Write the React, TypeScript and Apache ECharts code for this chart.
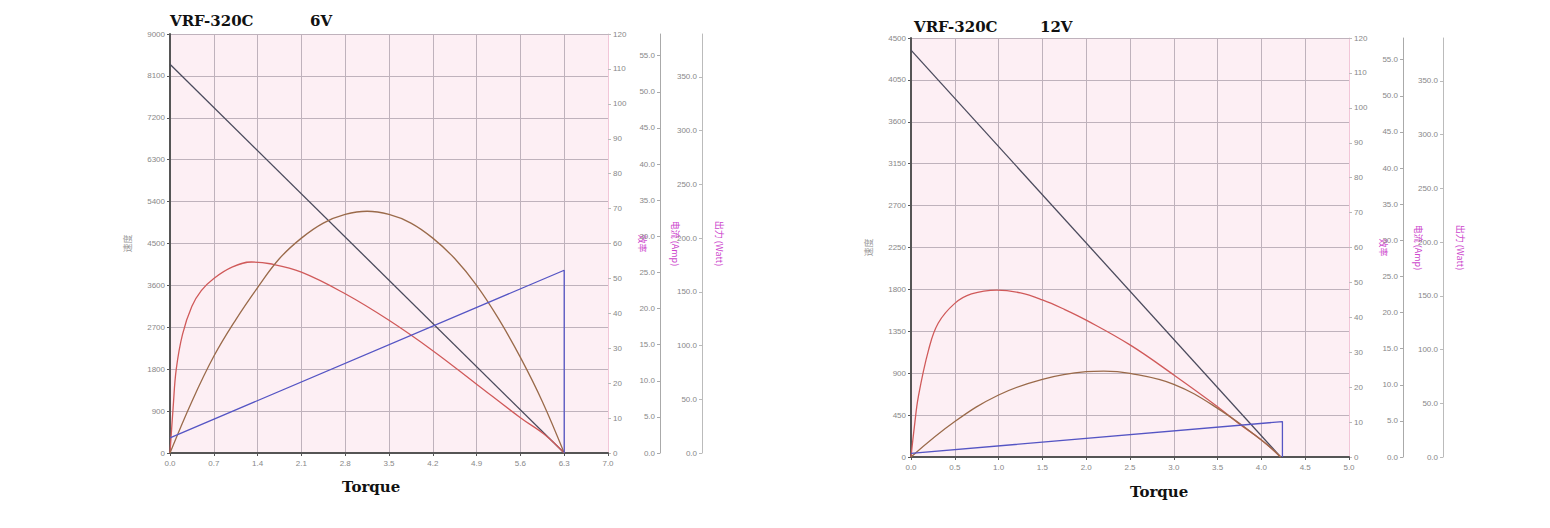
import { useEffect, useRef } from "react";
import * as echarts from "echarts";

// 6V chart: [torque, value]
const speed6V = [[0, 8350], [6.3, 0]];
const eff6V = [
  [0, 0], [0.05, 13], [0.1, 24], [0.2, 34], [0.35, 42], [0.5, 46.5], [0.7, 50],
  [1.0, 53.3], [1.3, 54.7], [1.6, 54.2], [2.1, 51.8], [2.8, 45.6], [3.5, 38],
  [4.2, 29.3], [4.9, 19.7], [5.6, 10.1], [6.0, 5.1], [6.3, 0],
];
const power6V = [
  [0, 0], [0.35, 48], [0.7, 90], [1.05, 124], [1.4, 154], [1.75, 181], [2.1, 200],
  [2.45, 214], [2.8, 222], [3.15, 225], [3.5, 222], [3.85, 214], [4.2, 200],
  [4.55, 181], [4.9, 156], [5.25, 125], [5.6, 89], [5.95, 48], [6.3, 0],
];
const current6V = [[0, 2.1], [6.3, 25.3], [6.3, 0]];

// 12V chart
const speed12V = [[0, 4370], [4.22, 0]];
const eff12V = [
  [0, 0], [0.04, 9], [0.084, 17.3], [0.2, 30.6], [0.31, 38.3], [0.5, 44],
  [0.69, 46.7], [0.98, 47.8], [1.25, 47.0], [1.5, 45.0], [1.75, 42.3], [2.0, 39.2],
  [2.5, 32.1], [3.0, 23.5], [3.5, 14.4], [3.74, 9.6], [4.0, 4.9], [4.22, 0],
];
const power12V = [
  [0, 0], [0.5, 33], [1.0, 57.7], [1.5, 72.3], [2.0, 79.4], [2.2, 80], [2.5, 77.8],
  [3.0, 67.6], [3.5, 45.3], [4.0, 15.8], [4.22, 0],
];
const current12V = [[0, 0.5], [4.24, 4.9], [4.24, 0]];

const speedName = "速度";
const effName = "效率";
const currentName = "电流 (Amp)";
const powerName = "出力 (Watt)";

const labelStyle = { fontSize: 8, color: "#888", fontFamily: "Liberation Sans" };
const titleStyle = { fontFamily: "DejaVu Serif", fontWeight: "bold" as const, fontSize: 15, color: "#111" };
const nameStyle = { fontSize: 9, color: "#cc44cc", fontFamily: "Noto Sans CJK SC" };
const gridLine = { color: "#bfb2bc", width: 1 };

function axesFor(g: number, xMax: number, xStep: number, yMax: number, yStep: number, off1: number, off2: number) {
  const xAxis = {
    gridIndex: g, type: "value", min: 0, max: xMax, interval: xStep,
    axisLine: { lineStyle: { color: "#555", width: 2 } },
    axisTick: { length: 3, lineStyle: { color: "#555" } },
    axisLabel: { ...labelStyle, margin: 6, formatter: (v: number) => v.toFixed(1) },
    splitLine: { show: true, lineStyle: gridLine },
  };
  const yAxes = [
    {
      gridIndex: g, type: "value", position: "left", min: 0, max: yMax, interval: yStep,
      axisLine: { show: true, lineStyle: { color: "#555", width: 2 } },
      axisTick: { show: true, length: 3, lineStyle: { color: "#555" } },
      axisLabel: { ...labelStyle, margin: 5, formatter: (v: number) => String(Math.round(v)) },
      splitLine: { show: true, lineStyle: gridLine },
      name: speedName, nameLocation: "middle", nameGap: 38,
      nameTextStyle: { fontSize: 9, color: "#999", fontFamily: "Noto Sans CJK SC" },
    },
    {
      gridIndex: g, type: "value", position: "right", min: 0, max: 120, interval: 10,
      axisLine: { show: true, lineStyle: { color: "#f2c6d8", width: 1 } },
      axisTick: { show: true, length: 3, lineStyle: { color: "#bbb" } },
      axisLabel: { ...labelStyle, margin: 5 },
      splitLine: { show: false },
      name: effName, nameLocation: "middle", nameGap: 30, nameRotate: -90, nameTextStyle: nameStyle,
    },
    {
      gridIndex: g, type: "value", position: "right", offset: off1, min: 0, max: 58, interval: 5,
      axisLine: { show: true, lineStyle: { color: "#aaa", width: 1 } },
      axisTick: { show: true, inside: true, length: 3, lineStyle: { color: "#aaa" } },
      axisLabel: { ...labelStyle, inside: true, margin: 5, showMaxLabel: false, formatter: (v: number) => v.toFixed(1) },
      splitLine: { show: false },
      name: currentName, nameLocation: "middle", nameGap: 11, nameRotate: -90, nameTextStyle: nameStyle,
    },
    {
      gridIndex: g, type: "value", position: "right", offset: off2, min: 0, max: 390, interval: 50,
      axisLine: { show: true, lineStyle: { color: "#bbb", width: 1 } },
      axisTick: { show: true, inside: true, length: 3, lineStyle: { color: "#bbb" } },
      axisLabel: { ...labelStyle, inside: true, margin: 5, showMaxLabel: false, formatter: (v: number) => v.toFixed(1) },
      splitLine: { show: false },
      name: powerName, nameLocation: "middle", nameGap: 13, nameRotate: -90, nameTextStyle: nameStyle,
    },
  ];
  return { xAxis, yAxes };
}

function line(g: number, yi: number, data: number[][], color: string, smooth: boolean | number = false) {
  return {
    type: "line", xAxisIndex: g, yAxisIndex: g * 4 + yi, data,
    showSymbol: false, smooth, silent: true,
    lineStyle: { color, width: 1.3 },
  };
}

export default function App() {
  const ref = useRef<HTMLDivElement>(null);

  useEffect(() => {
    if (!ref.current) return;
    const chart = echarts.init(ref.current, null, { renderer: "svg" });
    const a = axesFor(0, 7, 0.7, 9000, 900, 52, 94);
    const b = axesFor(1, 5, 0.5, 4500, 450, 54, 94);
    chart.setOption({
      animation: false,
      backgroundColor: "#fff",
      title: [
        { text: "VRF-320C", left: 170, top: 13, padding: 0, textStyle: titleStyle },
        { text: "6V", left: 310, top: 13, padding: 0, textStyle: titleStyle },
        { text: "VRF-320C", left: 914, top: 19, padding: 0, textStyle: titleStyle },
        { text: "12V", left: 1040, top: 19, padding: 0, textStyle: titleStyle },
        { text: "Torque", left: 342, top: 479, padding: 0, textStyle: titleStyle },
        { text: "Torque", left: 1130, top: 484, padding: 0, textStyle: titleStyle },
      ],
      grid: [
        { left: 170, top: 34, width: 438, height: 419, show: true, backgroundColor: "#fdeff4", borderWidth: 0 },
        { left: 911, top: 38, width: 438, height: 419, show: true, backgroundColor: "#fdeff4", borderWidth: 0 },
      ],
      xAxis: [a.xAxis, b.xAxis],
      yAxis: [...a.yAxes, ...b.yAxes],
      series: [
        line(0, 0, speed6V, "#4a4a5c"),
        line(0, 1, eff6V, "#d05a5a", 0.4),
        line(0, 3, power6V, "#9a6a4a", 0.4),
        line(0, 2, current6V, "#5555c4"),
        line(1, 0, speed12V, "#4a4a5c"),
        line(1, 1, eff12V, "#d05a5a", 0.4),
        line(1, 3, power12V, "#9a6a4a", 0.4),
        line(1, 2, current12V, "#5555c4"),
      ],
    });
    return () => chart.dispose();
  }, []);

  return (
    <div
      ref={ref}
      style={{ position: "fixed", left: 0, top: 0, width: 1550, height: 528 }}
    />
  );
}
